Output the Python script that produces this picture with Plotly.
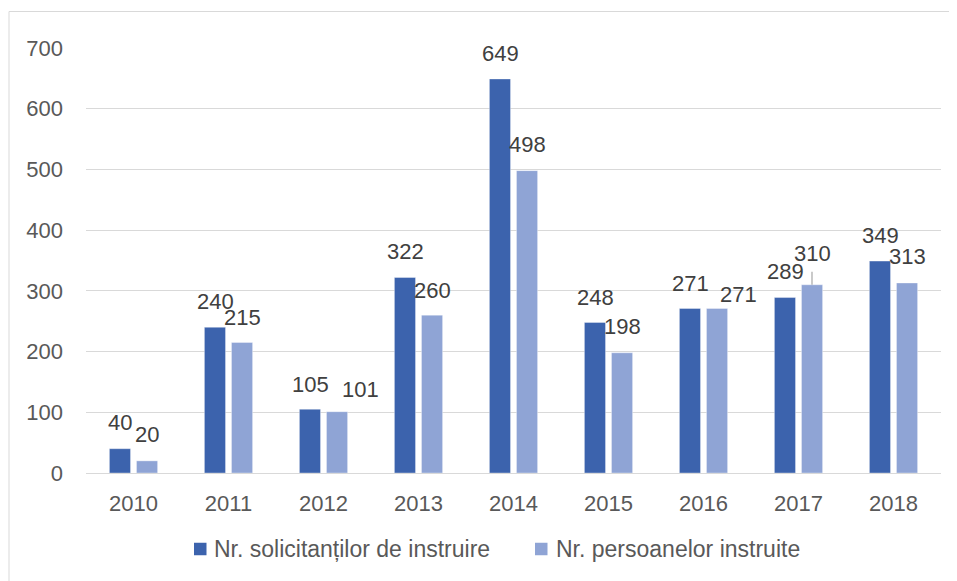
import plotly.graph_objects as go

years = ["2010", "2011", "2012", "2013", "2014", "2015", "2016", "2017", "2018"]
solicitanti = [40, 240, 105, 322, 649, 248, 271, 289, 349]
instruiti = [20, 215, 101, 260, 498, 198, 271, 310, 313]
series_names = ["Nr. solicitanților de instruire", "Nr. persoanelor instruite"]
y_ticks = [0, 100, 200, 300, 400, 500, 600, 700]

# label placement (pixel offsets relative to bar top centre) - style only
dx_sol = [0, 0, 0, 0, 0, 0, 0, 0, 0]
dy_sol = [26, 26, 25, 26, 25, 25, 25, 26, 26]
dx_ins = [0, 0, 23, 0, 0, 0, 21, 0, 0]
dy_ins = [26, 25, 22, 25, 26, 26, 14, 31, 26]

DARK = "#3C63AD"
LIGHT = "#8FA4D5"
FONT = "Liberation Sans, Arial, sans-serif"
BAR_OFF = 13.5

# page offset: the html body adds an 8px margin around the figure
W, H = 949, 573
L, R, T, B = 78, 16, 40, 108
PW, PH = W - L - R, H - T - B


def px_x(page_x):
    return (page_x - 8 - L) / PW


def px_y(page_y):
    return (T + PH - (page_y - 8)) / PH


fig = go.Figure()
fig.add_trace(go.Bar(x=years, y=solicitanti, name=series_names[0], showlegend=False,
                     marker=dict(color=DARK, line=dict(width=0.6, color="rgba(255,255,255,0.6)"))))
fig.add_trace(go.Bar(x=years, y=instruiti, name=series_names[1], showlegend=False,
                     marker=dict(color=LIGHT, line=dict(width=0.6, color="rgba(255,255,255,0.6)"))))

annotations = []
for i, yr in enumerate(years):
    annotations.append(dict(x=i, y=solicitanti[i], xref="x", yref="y", text=str(solicitanti[i]),
                            showarrow=False, xshift=-BAR_OFF + dx_sol[i], yshift=dy_sol[i],
                            xanchor="center", yanchor="middle",
                            font=dict(family=FONT, size=22, color="#404040")))
    annotations.append(dict(x=i, y=instruiti[i], xref="x", yref="y", text=str(instruiti[i]),
                            showarrow=False, xshift=BAR_OFF + dx_ins[i], yshift=dy_ins[i],
                            xanchor="center", yanchor="middle",
                            font=dict(family=FONT, size=22, color="#404040")))

# legend (drawn as squares + text)
legend_text_x = [212, 554]
legend_sq_x = [194, 535]
legend_y = 549
for k in range(2):
    annotations.append(dict(x=px_x(legend_text_x[k]), y=px_y(legend_y), xref="paper", yref="paper",
                            text=series_names[k], showarrow=False, xanchor="left", yanchor="middle",
                            font=dict(family=FONT, size=23, color="#595959")))
fig.update_layout(annotations=annotations)

shapes = [
    # leader line for the 2017 label
    dict(type="line", xref="x", yref="y", xsizemode="pixel", ysizemode="pixel",
         xanchor=years.index("2017"), yanchor=instruiti[7], x0=BAR_OFF, x1=BAR_OFF, y0=0, y1=13,
         line=dict(color="#A6A6A6", width=1.2)),
    # chart border (bottom edge lies below the visible page)
    dict(type="rect", xref="paper", yref="paper",
         x0=px_x(9), x1=px_x(952), y0=px_y(590), y1=px_y(11.5),
         line=dict(color="#D9D9D9", width=1), fillcolor="rgba(0,0,0,0)", layer="below"),
]
for k, col in enumerate([DARK, LIGHT]):
    shapes.append(dict(type="rect", xref="paper", yref="paper",
                       x0=px_x(legend_sq_x[k]), x1=px_x(legend_sq_x[k] + 12.5),
                       y0=px_y(legend_y + 6.25), y1=px_y(legend_y - 6.25),
                       line=dict(width=0), fillcolor=col))
fig.update_layout(shapes=shapes)

fig.update_layout(
    width=W, height=H,
    margin=dict(l=L, r=R, t=T, b=B, autoexpand=False),
    paper_bgcolor="white", plot_bgcolor="white",
    barmode="group", bargap=0.43, bargroupgap=0.22,
    font=dict(family=FONT, size=22, color="#595959"),
    showlegend=False,
)
fig.update_xaxes(type="category", range=[-0.5, 8.5], showgrid=False, showline=False, ticks="",
                 tickfont=dict(family=FONT, size=22, color="#595959"), ticklabelstandoff=15)
fig.update_yaxes(range=[0, 700], tickvals=y_ticks, showgrid=True, gridcolor="#D9D9D9",
                 gridwidth=1.3, zeroline=True, zerolinecolor="#D9D9D9", zerolinewidth=1.3,
                 showline=False, ticks="", tickfont=dict(family=FONT, size=22, color="#595959"),
                 ticklabelstandoff=22)

fig.write_html("out.html")
